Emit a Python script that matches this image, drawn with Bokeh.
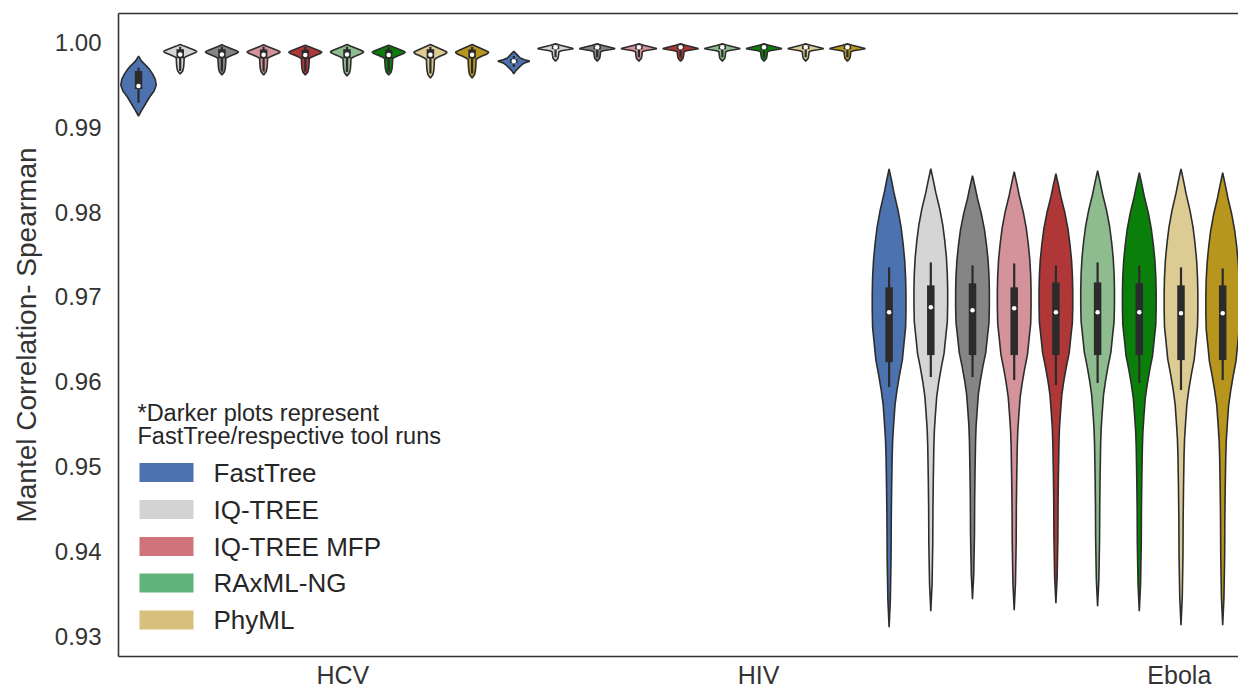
from bokeh.plotting import figure
from bokeh.models import (Range1d, FixedTicker, PrintfTickFormatter, LinearAxis,
                          Label, BoxAnnotation)
from bokeh.embed import file_html
from bokeh.resources import INLINE

# ---------------- data ----------------
groups = ["HCV", "HIV", "Ebola"]
tools = ["FastTree", "IQ-TREE", "FastTree/IQ-TREE", "IQ-TREE MFP", "FastTree/IQ-TREE MFP",
         "RAxML-NG", "FastTree/RAxML-NG", "PhyML", "FastTree/PhyML"]
violin_colors = ["#4c72b0", "#d5d5d5", "#858585", "#d4939a", "#b03737",
                 "#8fbc8f", "#0a800a", "#dccb93", "#b8961e"]
legend_labels = ["FastTree", "IQ-TREE", "IQ-TREE MFP", "RAxML-NG", "PhyML"]
legend_colors = ["#4c72b0", "#d3d3d3", "#d1737a", "#62b27b", "#d8c17f"]
legend_title = ["*Darker plots represent", "FastTree/respective tool runs"]
y_ticks = [0.93, 0.94, 0.95, 0.96, 0.97, 0.98, 0.99, 1.00]

# per-violin statistics (max, min, whiskers, quartiles, median), tool order as above
hcv_max = [0.99836, 0.99973, 0.99969, 0.99969, 0.99965, 0.99973, 0.99965, 0.99973, 0.99973]
hcv_min = [0.99131, 0.99624, 0.99613, 0.99613, 0.99613, 0.99601, 0.99613, 0.99577, 0.99577]
hcv_whi = [0.99698, 0.99947, 0.99947, 0.99947, 0.99942, 0.99947, 0.99942, 0.99947, 0.99947]
hcv_q3 = [0.99660, 0.99918, 0.99918, 0.99915, 0.99912, 0.99918, 0.99912, 0.99918, 0.99915]
hcv_med = [0.99484, 0.99856, 0.99856, 0.99853, 0.99850, 0.99856, 0.99850, 0.99853, 0.99853]
hcv_q1 = [0.99448, 0.99812, 0.99812, 0.99808, 0.99805, 0.99812, 0.99805, 0.99808, 0.99808]
hcv_wlo = [0.99288, 0.99660, 0.99654, 0.99654, 0.99654, 0.99648, 0.99654, 0.99630, 0.99630]

hiv_max = [0.99894, 0.99980, 0.99980, 0.99980, 0.99980, 0.99980, 0.99980, 0.99980, 0.99980]
hiv_min = [0.99628, 0.99777, 0.99777, 0.99777, 0.99777, 0.99777, 0.99777, 0.99777, 0.99777]
hiv_whi = [0.99836, 0.99971, 0.99971, 0.99971, 0.99971, 0.99971, 0.99971, 0.99971, 0.99971]
hiv_q3 = [0.99800, 0.99959, 0.99959, 0.99959, 0.99959, 0.99959, 0.99959, 0.99959, 0.99959]
hiv_med = [0.99777, 0.99941, 0.99941, 0.99941, 0.99941, 0.99941, 0.99941, 0.99941, 0.99941]
hiv_q1 = [0.99754, 0.99918, 0.99918, 0.99918, 0.99918, 0.99918, 0.99918, 0.99918, 0.99918]
hiv_wlo = [0.99707, 0.99824, 0.99824, 0.99824, 0.99824, 0.99824, 0.99824, 0.99824, 0.99824]

ebola_max = [0.98509, 0.98509, 0.98427, 0.98474, 0.98451, 0.98486, 0.98462, 0.98509, 0.98462]
ebola_min = [0.93110, 0.93298, 0.93439, 0.93310, 0.93392, 0.93357, 0.93298, 0.93134, 0.93134]
ebola_whi = [0.97347, 0.97406, 0.97371, 0.97394, 0.97371, 0.97406, 0.97371, 0.97347, 0.97336]
ebola_q3 = [0.97113, 0.97136, 0.97160, 0.97113, 0.97171, 0.97171, 0.97160, 0.97136, 0.97136]
ebola_med = [0.96819, 0.96878, 0.96843, 0.96866, 0.96819, 0.96819, 0.96819, 0.96808, 0.96808]
ebola_q1 = [0.96232, 0.96315, 0.96315, 0.96315, 0.96315, 0.96315, 0.96315, 0.96256, 0.96256]
ebola_wlo = [0.95939, 0.96056, 0.96056, 0.96021, 0.95962, 0.95986, 0.95986, 0.95904, 0.96021]

# density outlines: fraction from top (0) to bottom (1) -> relative density
hcv_ft_t = [0, 0.083, 0.167, 0.225, 0.30, 0.383, 0.483, 0.583, 0.683, 0.783, 0.883, 1]
hcv_ft_d = [0, 0.17, 0.45, 0.62, 0.79, 0.93, 0.99, 0.87, 0.62, 0.42, 0.22, 0]
hcv_t = [0, 0.055, 0.119, 0.184, 0.232, 0.281, 0.345, 0.41, 0.458, 0.603, 0.765, 0.894, 1]
hcv_d = [0, 0.22, 0.5, 0.78, 0.93, 0.83, 0.56, 0.31, 0.22, 0.21, 0.19, 0.14, 0]
hiv_ft_t = [0, 0.15, 0.3, 0.38, 0.44, 0.52, 0.62, 0.75, 0.88, 1]
hiv_ft_d = [0, 0.18, 0.36, 0.6, 0.89, 0.6, 0.42, 0.25, 0.1, 0]
hiv_t = [0, 0.075, 0.162, 0.249, 0.277, 0.335, 0.393, 0.451, 0.653, 0.827, 1]
hiv_d = [0, 0.28, 0.61, 0.94, 1.0, 0.67, 0.33, 0.19, 0.17, 0.14, 0]
ebola_t = [0, 0.026, 0.054, 0.091, 0.128, 0.163, 0.2, 0.237, 0.272, 0.309, 0.346, 0.381,
           0.417, 0.45, 0.483, 0.515, 0.554, 0.591, 0.628, 0.7, 0.765, 0.845, 0.939, 1]
ebola_d = [0, 0.14, 0.28, 0.5, 0.67, 0.78, 0.87, 0.92, 0.94, 0.94, 0.92, 0.83, 0.74,
           0.58, 0.44, 0.33, 0.26, 0.2, 0.17, 0.14, 0.12, 0.11, 0.07, 0]

# ---------------- layout / style ----------------
FONT = "Liberation Sans"
TXT = "#262626"
AX = "#333333"
HALF = 0.43            # max half width of a violin (slot units)
group_tick_pos = [4.9, 14.87, 24.96]

p = figure(width=1238, height=691, output_backend="svg", toolbar_location=None,
           x_range=Range1d(-0.48, 26.379), y_range=Range1d(0.92765, 1.00338),
           min_border_left=118, min_border_right=0, min_border_top=13, min_border_bottom=34,
           background_fill_color="white", border_fill_color="white")
p.outline_line_color = None
p.grid.visible = False

# left axis
ya = p.yaxis[0]
ya.ticker = FixedTicker(ticks=y_ticks)
ya.formatter = PrintfTickFormatter(format="%.2f")
ya.major_tick_out = 0
ya.major_tick_in = 0
ya.minor_tick_out = 0
ya.minor_tick_in = 0
ya.major_label_standoff = 17
ya.major_label_text_font = FONT
ya.major_label_text_font_size = "24px"
ya.major_label_text_color = AX
ya.axis_line_color = AX
ya.axis_line_width = 1.6
ya.axis_label = "Mantel Correlation- Spearman"
ya.axis_label_text_font = FONT
ya.axis_label_text_font_size = "28px"
ya.axis_label_text_font_style = "normal"
ya.axis_label_text_color = AX
ya.axis_label_standoff = 10

# bottom axis with the group names
xa = p.xaxis[0]
xa.ticker = FixedTicker(ticks=group_tick_pos)
xa.major_label_overrides = {pos: name for pos, name in zip(group_tick_pos, groups)}
xa.major_tick_out = 0
xa.major_tick_in = 0
xa.minor_tick_out = 0
xa.minor_tick_in = 0
xa.major_label_standoff = 4
xa.major_label_text_font = FONT
xa.major_label_text_font_size = "25px"
xa.major_label_text_color = AX
xa.axis_line_color = AX
xa.axis_line_width = 1.6

top = LinearAxis(ticker=FixedTicker(ticks=[]), major_tick_out=0, major_tick_in=0,
                 minor_tick_out=0, minor_tick_in=0, major_label_text_font_size="0px",
                 major_label_standoff=0, axis_line_color=AX, axis_line_width=1.6)
p.add_layout(top, "above")

# ---------------- violins ----------------
stats = [
    (hcv_max, hcv_min, hcv_whi, hcv_q3, hcv_med, hcv_q1, hcv_wlo, (hcv_ft_t, hcv_ft_d), (hcv_t, hcv_d)),
    (hiv_max, hiv_min, hiv_whi, hiv_q3, hiv_med, hiv_q1, hiv_wlo, (hiv_ft_t, hiv_ft_d), (hiv_t, hiv_d)),
    (ebola_max, ebola_min, ebola_whi, ebola_q3, ebola_med, ebola_q1, ebola_wlo, (ebola_t, ebola_d), (ebola_t, ebola_d)),
]

xs_all, ys_all, fills = [], [], []
cx, wlo_l, whi_l, q1_l, q3_l, med_l = [], [], [], [], [], []
for g, st in enumerate(stats):
    vmax, vmin, whi, q3, med, q1, wlo, prof_ft, prof = st
    for k in range(len(tools)):
        c = g * len(tools) + k
        t, d = prof_ft if k == 0 else prof
        ys = [vmax[k] - ti * (vmax[k] - vmin[k]) for ti in t]
        right = [c + di * HALF for di in d]
        left = [c - di * HALF for di in d]
        xs_all.append(right + left[::-1])
        ys_all.append(ys + ys[::-1])
        fills.append(violin_colors[k])
        cx.append(c)
        wlo_l.append(wlo[k]); whi_l.append(whi[k])
        q1_l.append(q1[k]); q3_l.append(q3[k]); med_l.append(med[k])

p.patches(xs_all, ys_all, fill_color=fills, line_color="#2d2d2d", line_width=1.6)
p.segment(x0=cx, y0=wlo_l, x1=cx, y1=whi_l, line_color="#2b2b2b", line_width=2.2)
p.segment(x0=cx, y0=q1_l, x1=cx, y1=q3_l, line_color="#2b2b2b", line_width=7.5)
p.scatter(cx, med_l, size=4.5, fill_color="white", line_color=None)

# ---------------- legend (drawn by hand, frame-relative screen units) ----------------
row_y = [184, 147, 110, 73.5, 36.5]
for lab, col, yc in zip(legend_labels, legend_colors, row_y):
    p.add_layout(BoxAnnotation(left=21, right=75, bottom=yc - 9.5, top=yc + 9.5,
                               left_units="screen", right_units="screen",
                               top_units="screen", bottom_units="screen",
                               fill_color=col, fill_alpha=1.0, line_color=None))
    p.add_layout(Label(x=95, y=yc, x_units="screen", y_units="screen", text=lab,
                       text_align="left", text_baseline="middle", text_font=FONT,
                       text_font_size="26px", text_color=TXT))

for i, line in enumerate(legend_title):
    p.add_layout(Label(x=19, y=244 - 23 * i, x_units="screen", y_units="screen", text=line,
                       text_align="left", text_baseline="middle", text_font=FONT,
                       text_font_size="23.5px", text_color=TXT))

open("out.html", "w").write(file_html(p, INLINE))
